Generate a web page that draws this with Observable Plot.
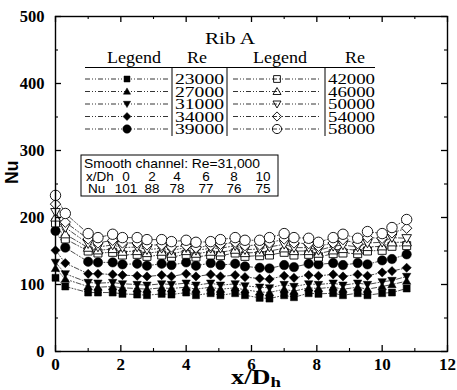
<!DOCTYPE html>
<html><head><meta charset="utf-8">
<script src="https://cdn.jsdelivr.net/npm/d3@7"></script>
<script src="https://cdn.jsdelivr.net/npm/@observablehq/plot@0.6"></script>
<style>body{margin:0;background:#fff}#chart{width:457px;height:390px}</style>
</head><body><div id="chart"></div>
<script>
// ---- data ----
const xPos = [0,0.3,1.0,1.3,1.75,2.05,2.5,2.8,3.25,3.55,4.0,4.3,4.75,5.05,5.5,5.8,6.25,6.55,7.0,7.3,7.75,8.05,8.5,8.8,9.25,9.55,10.0,10.3,10.75];
const re23000 = [110,97,88,88,88,86,85,84,86,85,88,84,87,84,87,84,80,79,84,81,87,86,87,84,87,84,87,88,94];
const re27000 = [124,108,97,96,97,95,94,93,95,94,96,93,96,93,95,92,89,88,93,90,95,94,96,93,96,93,97,100,105];
const re31000 = [133,116,103,102,103,101,100,99,101,100,102,99,102,99,101,98,96,95,100,97,101,100,102,99,102,100,104,106,112];
const re34000 = [151,132,116,116,115,114,113,112,114,112,116,112,115,112,114,111,109,108,113,110,114,113,115,112,115,113,118,120,125];
const re39000 = [180,155,134,133,133,130,131,128,131,129,133,128,132,129,131,127,125,124,129,126,131,130,132,129,132,130,136,138,145];
const re42000 = [192,168,150,147,148,144,145,142,144,141,145,141,144,143,147,142,143,144,148,144,145,141,146,147,146,150,151,157,158];
const re46000 = [200,175,155,151,153,149,150,147,149,146,150,146,149,148,152,147,148,150,154,150,150,146,151,153,151,156,157,163,163];
const re50000 = [208,185,161,156,159,155,156,152,154,151,155,151,154,154,158,152,153,156,160,155,155,151,157,159,156,162,163,170,169];
const re54000 = [220,193,168,162,166,162,162,159,159,156,158,155,158,160,163,158,159,162,168,162,161,157,162,167,161,170,169,177,184];
const re58000 = [233,206,176,170,175,170,170,167,167,164,166,163,164,167,170,166,166,170,176,170,169,163,170,175,169,179,176,185,197];
const reNumbers = [23000,27000,31000,34000,39000,42000,46000,50000,54000,58000];
const seriesValues = [re23000,re27000,re31000,re34000,re39000,re42000,re46000,re50000,re54000,re58000];
const smoothXD = [0,2,4,6,8,10];
const smoothNu = [101,88,78,77,76,75];
const xTicks = [0,2,4,6,8,10,12];
const xMinor = [1,3,5,7,9,11];
const yTicks = [0,100,200,300,400,500];
const yMinor = [50,150,250,350,450];

// ---- symbols ----
function sym(fn){return {draw(c,size){const r=Math.sqrt(size/Math.PI);fn(c,r);}};}
const symSquare = sym((c,r)=>{c.moveTo(-r,-r);c.lineTo(r,-r);c.lineTo(r,r);c.lineTo(-r,r);c.closePath();});
const symTriUp = sym((c,r)=>{c.moveTo(0,-r);c.lineTo(r,r*0.75);c.lineTo(-r,r*0.75);c.closePath();});
const symTriDown = sym((c,r)=>{c.moveTo(0,r);c.lineTo(r,-r*0.75);c.lineTo(-r,-r*0.75);c.closePath();});
const symDiamond = sym((c,r)=>{c.moveTo(0,-r);c.lineTo(r,0);c.lineTo(0,r);c.lineTo(-r,0);c.closePath();});
const symCircle = sym((c,r)=>{c.moveTo(r,0);c.arc(0,0,r,0,2*Math.PI);c.closePath();});
const styles = [
  {s:symSquare, r:3.5, filled:true, lr:3},
  {s:symTriUp, r:4.2, filled:true, lr:3.6},
  {s:symTriDown, r:4.2, filled:true, lr:3.6},
  {s:symDiamond, r:4.6, filled:true, lr:4},
  {s:symCircle, r:4.7, filled:true, lr:4.2},
  {s:symSquare, r:4, filled:false, lr:3.4},
  {s:symTriUp, r:4.8, filled:false, lr:4},
  {s:symTriDown, r:4.8, filled:false, lr:4},
  {s:symDiamond, r:5.2, filled:false, lr:4.6},
  {s:symCircle, r:5.2, filled:false, lr:4.6}
];

const rows = [];
reNumbers.forEach((re,i)=>xPos.forEach((x,j)=>rows.push({re, x, nu: seriesValues[i][j]})));

const W=457,H=390,mL=55,mR=10,mT=16,mB=39;
const iW=W-mL-mR, iH=H-mT-mB;
const dash="5,2,1,2,1,2";
const serif="Liberation Serif, 'Times New Roman', serif";

const marks = [
  Plot.line(rows,{x:"x",y:"nu",z:"re",stroke:"#000",strokeWidth:0.7,strokeDasharray:dash}),
  ...reNumbers.map((re,i)=>Plot.dot(rows.filter(d=>d.re===re),{x:"x",y:"nu",symbol:styles[i].s,r:styles[i].r,
     fill:styles[i].filled?"#000":"#fff",stroke:"#000",strokeWidth:styles[i].filled?0.5:0.9})),
  Plot.frame({stroke:"#000",strokeWidth:1.4}),
  Plot.ruleX(xTicks,{x:d=>d,insetTop:iH-6,stroke:"#000",strokeWidth:1.3}),
  Plot.ruleX(xMinor,{x:d=>d,insetTop:iH-3,stroke:"#000",strokeWidth:1.1}),
  Plot.ruleX(xTicks,{x:d=>d,insetBottom:iH-6,stroke:"#000",strokeWidth:1.3}),
  Plot.ruleX(xMinor,{x:d=>d,insetBottom:iH-3,stroke:"#000",strokeWidth:1.1}),
  Plot.ruleY(yTicks,{y:d=>d,insetRight:iW-6,stroke:"#000",strokeWidth:1.3}),
  Plot.ruleY(yMinor,{y:d=>d,insetRight:iW-3,stroke:"#000",strokeWidth:1.1}),
  Plot.ruleY(yTicks,{y:d=>d,insetLeft:iW-6,stroke:"#000",strokeWidth:1.3}),
  Plot.ruleY(yMinor,{y:d=>d,insetLeft:iW-3,stroke:"#000",strokeWidth:1.1}),
  Plot.text(xTicks,{x:d=>d,frameAnchor:"bottom",lineAnchor:"top",dy:6,text:d=>String(d),fontSize:17,fontWeight:"bold",fontFamily:serif,ariaLabel:"xlab"}),
  Plot.text(yTicks,{y:d=>d,frameAnchor:"left",textAnchor:"end",dx:-11,text:d=>String(d),fontSize:16.5,fontWeight:"bold",fontFamily:serif,ariaLabel:"ylab"}),
  Plot.text(["Nu"],{frameAnchor:"left",dx:-43,rotate:-90,text:d=>d,fontSize:17.5,fontWeight:"bold",fontFamily:"Liberation Sans, Arial, sans-serif"})
];

const chart = Plot.plot({
  width:W,height:H,marginLeft:mL,marginRight:mR,marginTop:mT,marginBottom:mB,
  x:{domain:[0,12],axis:null},
  y:{domain:[0,500],axis:null},
  style:{fontFamily:serif,color:"#000",background:"#fff",overflow:"visible"},
  marks
});
document.getElementById("chart").appendChild(chart);

const svg = d3.select(chart);
// tick labels: force serif bold; y labels are horizontally wide in the reference
svg.selectAll('g[aria-label="xlab"] text, g[aria-label="ylab"] text').each(function(){
  this.style.fontFamily=serif; this.style.fontWeight="bold";
});
svg.selectAll('g[aria-label="ylab"] text').each(function(){const t=this.textContent;this.setAttribute("textLength",12.3*t.length);this.setAttribute("lengthAdjust","spacingAndGlyphs");});

// x axis title
const xt = svg.append("g").attr("transform","translate(256,384) scale(1.25,1)")
  .append("text").attr("text-anchor","middle").attr("font-family",serif).attr("font-weight","bold").attr("font-size",21);
xt.append("tspan").text("x/D");
xt.append("tspan").attr("font-size",15).attr("dy",3).text("h");

// legend table
const lg = svg.append("g").attr("font-family",serif).attr("fill","#000");
function txt(g,s,x,y,size,anchor,tl){const t=g.append("text").attr("x",x).attr("y",y).attr("font-size",size).attr("text-anchor",anchor).text(s);
  if(tl){t.attr("textLength",tl).attr("lengthAdjust","spacingAndGlyphs");} return t;}
txt(lg,"Rib A",230,44,16,"middle",50);
txt(lg,"Legend",134,63,16,"middle",54);
txt(lg,"Re",197,63,16,"middle",20);
txt(lg,"Legend",280,63,16,"middle",54);
txt(lg,"Re",355,63,16,"middle",20);
lg.append("line").attr("x1",85).attr("x2",375).attr("y1",67.5).attr("y2",67.5).attr("stroke","#000").attr("stroke-width",1);
[172,227,325].forEach(x=>lg.append("line").attr("x1",x).attr("x2",x).attr("y1",67.5).attr("y2",136).attr("stroke","#000").attr("stroke-width",1));
for(let i=0;i<5;i++){
  const cy=79+i*12.5;
  [[0,85,168,127,175,49],[5,233,320,277,328,47]].forEach(([off,x1,x2,mx,tx,tl])=>{
    const st=styles[i+off];
    lg.append("line").attr("x1",x1).attr("x2",x2).attr("y1",cy).attr("y2",cy).attr("stroke","#000").attr("stroke-width",0.8).attr("stroke-dasharray",dash);
    lg.append("path").attr("transform",`translate(${mx},${cy})`).attr("d",d3.symbol(st.s,Math.PI*st.lr*st.lr)())
      .attr("fill",st.filled?"#000":"none").attr("stroke","#000").attr("stroke-width",st.filled?0.5:0.9);
    txt(lg,String(reNumbers[i+off]),tx,cy+5,14.5,"start",tl);
  });
}

// smooth channel box
const sans="Liberation Sans, Arial, sans-serif";
const sb = svg.append("g").attr("font-family",sans).attr("fill","#000");
sb.append("rect").attr("x",81).attr("y",155).attr("width",197).attr("height",41).attr("fill","#fff").attr("stroke","#000").attr("stroke-width",1);
txt(sb,"Smooth channel: Re=31,000",84,167.5,13.5,"start",176);
txt(sb,"x/Dh",86,180.5,13.5,"start");
txt(sb,"Nu",88,193,13.5,"start");
const cols=[126,152,177,206,234,263];
smoothXD.forEach((v,k)=>txt(sb,String(v),cols[k],180.5,13.5,"middle"));
smoothNu.forEach((v,k)=>txt(sb,String(v),cols[k],193,13.5,"middle"));
</script>
</body></html>
